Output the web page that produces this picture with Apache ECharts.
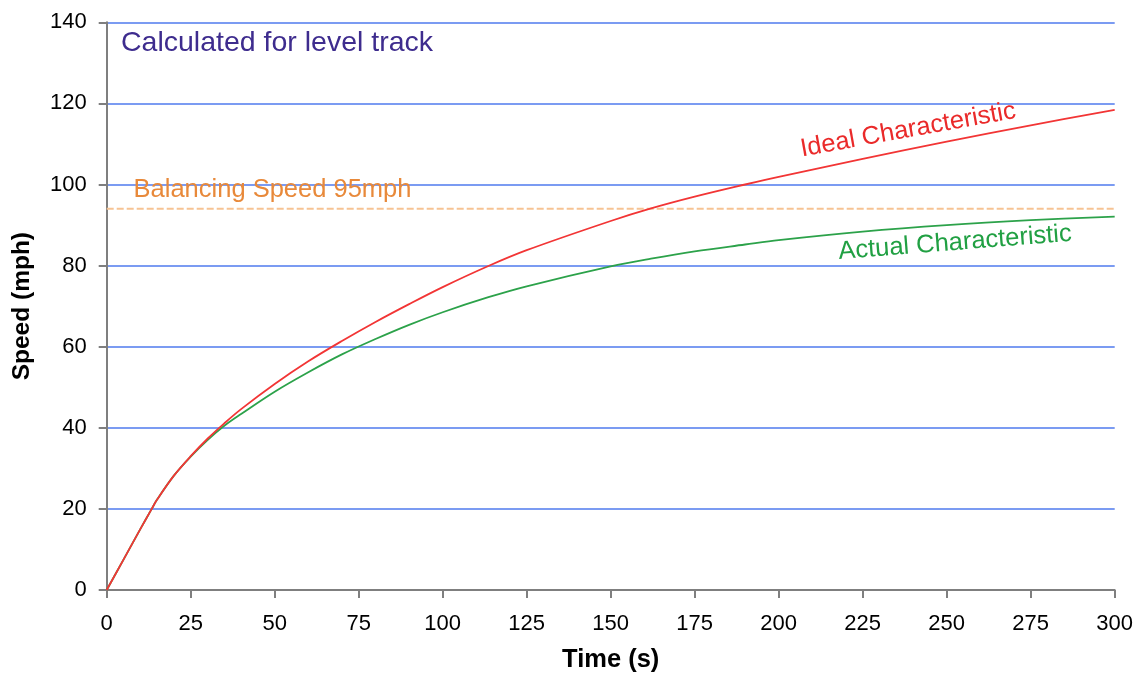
<!DOCTYPE html>
<html>
<head>
<meta charset="utf-8">
<script src="https://cdn.jsdelivr.net/npm/echarts@6/dist/echarts.min.js"></script>
<style>
html,body{margin:0;padding:0;background:#fff;}
#chart{width:1139px;height:678px;}
</style>
</head>
<body>
<div id="chart"></div>
<script>
// Time (s)
const times = [0, 5, 10, 13.4, 15, 20, 25, 30, 35, 40, 50, 60, 70, 80, 90, 100, 113.6, 125, 150, 162, 175, 190, 200, 225, 250, 275, 300];
// Ideal characteristic speed (mph)
const idealSpeed = [0, 7.5, 15, 20, 22.3, 28.2, 33.0, 37.3, 41.1, 44.6, 50.8, 56.4, 61.4, 66.1, 70.5, 74.7, 79.9, 83.8, 91.0, 94.1, 97.0, 100.0, 101.9, 106.3, 110.6, 114.6, 118.4];
// Actual characteristic speed (mph)
const actualSpeed = [0, 7.5, 15, 20, 22.3, 28.2, 32.9, 37.0, 40.5, 43.4, 48.9, 53.7, 58.1, 61.9, 65.4, 68.5, 72.2, 74.9, 79.8, 81.7, 83.5, 85.2, 86.3, 88.4, 90.0, 91.2, 92.1];
// Balancing speed line
const balanceTimes = [0, 300];
const balanceSpeed = [94, 94];
// Axis ticks
const xTicks = {min: 0, max: 300, step: 25};
const yTicks = {min: 0, max: 140, step: 20};
// Annotation texts
const noteText = 'Calculated for level track';
const balanceText = 'Balancing Speed 95mph';
const idealText = 'Ideal Characteristic';
const actualText = 'Actual Characteristic';

const pair = (xs, ys) => xs.map((x, i) => [x, ys[i]]);

const chart = echarts.init(document.getElementById('chart'), null, {renderer: 'canvas'});
const FONT = 'Arial, "Liberation Sans", sans-serif';

chart.setOption({
  animation: false,
  backgroundColor: '#ffffff',
  grid: {left: 106.7, right: 24.3, top: 22.3, bottom: 88, containLabel: false},
  xAxis: {
    type: 'value', min: xTicks.min, max: xTicks.max, interval: xTicks.step,
    name: 'Time (s)', nameLocation: 'middle', nameGap: 57,
    nameTextStyle: {fontFamily: FONT, fontWeight: 'bold', fontSize: 25.5, color: '#000'},
    axisLine: {show: true, lineStyle: {color: '#7f7f7f', width: 2}},
    axisTick: {show: true, inside: false, length: 8, lineStyle: {color: '#7f7f7f', width: 2}},
    axisLabel: {margin: 23, fontFamily: FONT, fontSize: 22, color: '#000'},
    splitLine: {show: false}
  },
  yAxis: {
    type: 'value', min: yTicks.min, max: yTicks.max, interval: yTicks.step,
    name: 'Speed (mph)', nameLocation: 'middle', nameGap: 72, nameRotate: 90,
    nameTextStyle: {fontFamily: FONT, fontWeight: 'bold', fontSize: 24.5, color: '#000'},
    axisLine: {show: true, lineStyle: {color: '#7f7f7f', width: 2}},
    axisTick: {show: true, inside: false, length: 8, lineStyle: {color: '#7f7f7f', width: 2}},
    axisLabel: {margin: 20, fontFamily: FONT, fontSize: 22, color: '#000'},
    splitLine: {show: true, lineStyle: {color: '#7b9bf2', width: 2}}
  },
  series: [
    {
      name: 'Balancing', type: 'line', data: pair(balanceTimes, balanceSpeed),
      symbol: 'none', silent: true,
      lineStyle: {color: '#f6c394', width: 2, type: [7, 3]},
      markPoint: {
        symbol: 'circle', symbolSize: 0, silent: true,
        data: [{coord: [8, 98.6], label: {show: true, formatter: balanceText, position: 'right', distance: 0,
          fontFamily: FONT, fontSize: 25.5, color: '#e8893a'}}]
      }
    },
    {
      name: 'Actual', type: 'line', data: pair(times, actualSpeed),
      symbol: 'none', smooth: 0.35,
      lineStyle: {color: '#2ca24a', width: 1.8},
      markPoint: {
        symbol: 'circle', symbolSize: 0, silent: true,
        data: [{coord: [252.5, 85.6], label: {show: true, formatter: actualText, position: 'inside', rotate: 4.5,
          fontFamily: FONT, fontSize: 25.5, color: '#21a043'}}]
      }
    },
    {
      name: 'Ideal', type: 'line', data: pair(times, idealSpeed),
      symbol: 'none', smooth: 0.35,
      lineStyle: {color: '#f23535', width: 1.8},
      markPoint: {
        symbol: 'circle', symbolSize: 0, silent: true,
        data: [{coord: [238.5, 113.4], label: {show: true, formatter: idealText, position: 'inside', rotate: 10.2,
          fontFamily: FONT, fontSize: 25.5, color: '#ea2a2a'}}]
      }
    }
  ],
  graphic: [{
    type: 'text', left: 121, top: 29,
    style: {text: noteText, fontFamily: FONT, fontSize: 28.5, fill: '#3e2c8e'}
  }]
});
</script>
</body>
</html>
